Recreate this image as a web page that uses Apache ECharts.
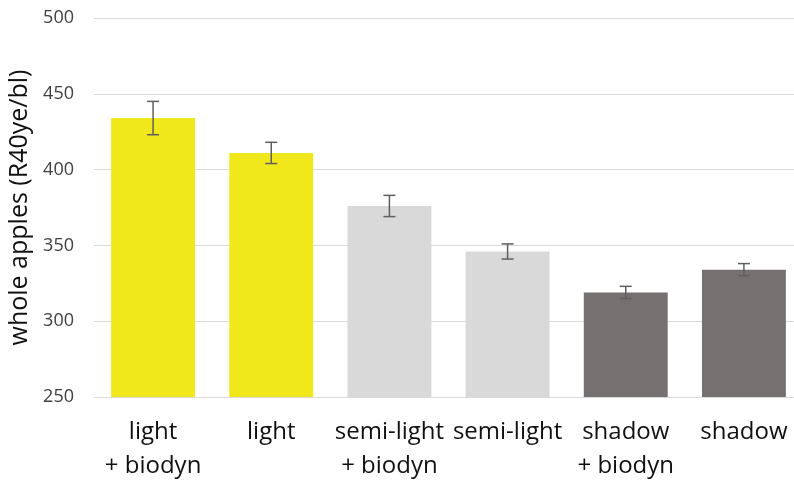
<!DOCTYPE html>
<html><head><meta charset="utf-8">
<script src="https://cdn.jsdelivr.net/npm/echarts@6/dist/echarts.min.js"></script>
<style>html,body{margin:0;padding:0;background:#fff}#c{width:794px;height:481px}</style>
</head><body><div id="c"></div>
<script>
const categories = ["light\n+ biodyn", "light", "semi-light\n+ biodyn", "semi-light", "shadow\n+ biodyn", "shadow"];
const values = [434, 411, 376, 346, 319, 334];
const errors = [11, 7, 7, 5, 4, 4];
const barColors = ["#F0E81A", "#F0E81A", "#D9D9D9", "#D9D9D9", "#767171", "#767171"];
const yTicks = [250, 300, 350, 400, 450, 500];

const chart = echarts.init(document.getElementById('c'));
const font = "'Open Sans', sans-serif";
chart.setOption({
  animation: false,
  grid: {left: 94, width: 709, top: 18, height: 379, outerBoundsMode: 'none', containLabel: false},
  xAxis: {
    type: 'category', data: categories,
    axisLine: {lineStyle: {color: '#d9d9d9', width: 1}},
    axisTick: {show: false},
    axisLabel: {fontFamily: font, fontSize: 24, color: '#111', lineHeight: 34, margin: 18, interval: 0}
  },
  yAxis: {
    type: 'value', min: yTicks[0], max: yTicks[yTicks.length-1], interval: 50,
    name: 'whole apples (R40ye/bl)', nameLocation: 'middle', nameGap: 62,
    nameTextStyle: {fontFamily: font, fontSize: 25, color: '#111'},
    axisLine: {show: false}, axisTick: {show: false},
    axisLabel: {fontFamily: font, fontSize: 18, color: '#404040', margin: 20},
    splitLine: {lineStyle: {color: '#d9d9d9', width: 1}}
  },
  series: [
    {
      type: 'bar', barWidth: '71%',
      data: values.map((v, i) => ({value: v, itemStyle: {color: barColors[i]}}))
    },
    {
      type: 'custom', z: 10,
      data: values.map((v, i) => [i, v - errors[i], v + errors[i]]),
      renderItem: function (params, api) {
        const lo = api.coord([api.value(0), api.value(1)]);
        const hi = api.coord([api.value(0), api.value(2)]);
        const w = 6;
        const st = {stroke: '#5f5f5f', lineWidth: 1.5};
        return {type: 'group', children: [
          {type: 'line', shape: {x1: hi[0], y1: hi[1], x2: lo[0], y2: lo[1]}, style: st},
          {type: 'line', shape: {x1: hi[0]-w, y1: hi[1], x2: hi[0]+w, y2: hi[1]}, style: st},
          {type: 'line', shape: {x1: lo[0]-w, y1: lo[1], x2: lo[0]+w, y2: lo[1]}, style: st}
        ]};
      }
    }
  ]
});
</script></body></html>
